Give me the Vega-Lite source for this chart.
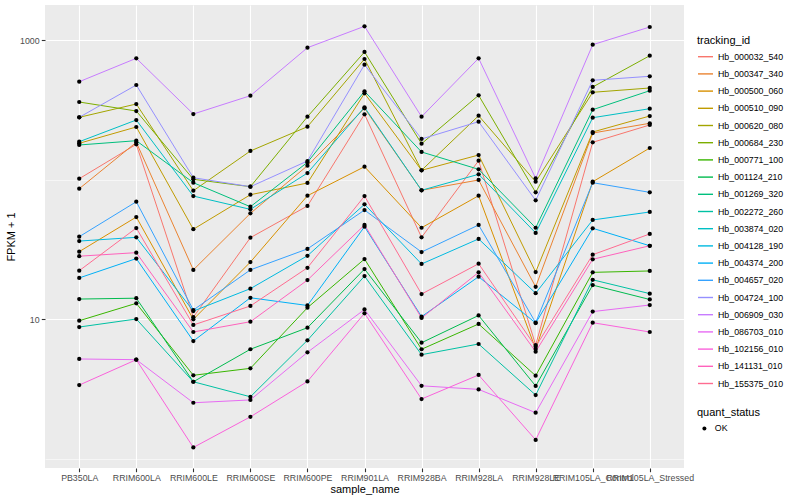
{
  "$schema": "https://vega.github.io/schema/vega-lite/v6.json",
  "width": 639,
  "height": 463,
  "autosize": {"type": "none"},
  "padding": {"left": 45, "top": 5, "right": 116, "bottom": 32},
  "background": "white",
  "config": {
    "font": "Liberation Sans",
    "view": {"fill": "#EBEBEB", "stroke": null},
    "axis": {
      "domain": false,
      "gridColor": "white",
      "tickColor": "#333333",
      "tickSize": 3.7,
      "tickWidth": 1.1,
      "labelColor": "#4D4D4D",
      "labelFontSize": 8.8,
      "labelPadding": 2.2,
      "titleColor": "black",
      "titleFontSize": 11,
      "titleFontWeight": "normal"
    },
    "legend": {
      "titleFontWeight": "normal",
      "titleFontSize": 11,
      "titleColor": "black",
      "labelFontSize": 8.8,
      "labelColor": "black",
      "padding": 0
    }
  },
  "data": {
    "values": [
      {"tracking_id":"Hb_000032_540","sample_name":"PB350LA","fpkm_plus_1":101.3,"quant_status":"OK"},
      {"tracking_id":"Hb_000032_540","sample_name":"RRIM600LA","fpkm_plus_1":178.8,"quant_status":"OK"},
      {"tracking_id":"Hb_000032_540","sample_name":"RRIM600LE","fpkm_plus_1":10.3,"quant_status":"OK"},
      {"tracking_id":"Hb_000032_540","sample_name":"RRIM600SE","fpkm_plus_1":38.3,"quant_status":"OK"},
      {"tracking_id":"Hb_000032_540","sample_name":"RRIM600PE","fpkm_plus_1":64.6,"quant_status":"OK"},
      {"tracking_id":"Hb_000032_540","sample_name":"RRIM901LA","fpkm_plus_1":293.4,"quant_status":"OK"},
      {"tracking_id":"Hb_000032_540","sample_name":"RRIM928BA","fpkm_plus_1":38.5,"quant_status":"OK"},
      {"tracking_id":"Hb_000032_540","sample_name":"RRIM928LA","fpkm_plus_1":136.4,"quant_status":"OK"},
      {"tracking_id":"Hb_000032_540","sample_name":"RRIM928LE","fpkm_plus_1":6.51,"quant_status":"OK"},
      {"tracking_id":"Hb_000032_540","sample_name":"RRIM105LA_Control","fpkm_plus_1":184.8,"quant_status":"OK"},
      {"tracking_id":"Hb_000032_540","sample_name":"RRIM105LA_Stressed","fpkm_plus_1":245.9,"quant_status":"OK"},
      {"tracking_id":"Hb_000347_340","sample_name":"PB350LA","fpkm_plus_1":85.9,"quant_status":"OK"},
      {"tracking_id":"Hb_000347_340","sample_name":"RRIM600LA","fpkm_plus_1":184.8,"quant_status":"OK"},
      {"tracking_id":"Hb_000347_340","sample_name":"RRIM600LE","fpkm_plus_1":22.5,"quant_status":"OK"},
      {"tracking_id":"Hb_000347_340","sample_name":"RRIM600SE","fpkm_plus_1":57.2,"quant_status":"OK"},
      {"tracking_id":"Hb_000347_340","sample_name":"RRIM600PE","fpkm_plus_1":125.6,"quant_status":"OK"},
      {"tracking_id":"Hb_000347_340","sample_name":"RRIM901LA","fpkm_plus_1":323.8,"quant_status":"OK"},
      {"tracking_id":"Hb_000347_340","sample_name":"RRIM928BA","fpkm_plus_1":83.7,"quant_status":"OK"},
      {"tracking_id":"Hb_000347_340","sample_name":"RRIM928LA","fpkm_plus_1":99.2,"quant_status":"OK"},
      {"tracking_id":"Hb_000347_340","sample_name":"RRIM928LE","fpkm_plus_1":17.0,"quant_status":"OK"},
      {"tracking_id":"Hb_000347_340","sample_name":"RRIM105LA_Control","fpkm_plus_1":215.4,"quant_status":"OK"},
      {"tracking_id":"Hb_000347_340","sample_name":"RRIM105LA_Stressed","fpkm_plus_1":252.9,"quant_status":"OK"},
      {"tracking_id":"Hb_000500_060","sample_name":"PB350LA","fpkm_plus_1":30.4,"quant_status":"OK"},
      {"tracking_id":"Hb_000500_060","sample_name":"RRIM600LA","fpkm_plus_1":53.8,"quant_status":"OK"},
      {"tracking_id":"Hb_000500_060","sample_name":"RRIM600LE","fpkm_plus_1":9.95,"quant_status":"OK"},
      {"tracking_id":"Hb_000500_060","sample_name":"RRIM600SE","fpkm_plus_1":25.6,"quant_status":"OK"},
      {"tracking_id":"Hb_000500_060","sample_name":"RRIM600PE","fpkm_plus_1":76.5,"quant_status":"OK"},
      {"tracking_id":"Hb_000500_060","sample_name":"RRIM901LA","fpkm_plus_1":123.5,"quant_status":"OK"},
      {"tracking_id":"Hb_000500_060","sample_name":"RRIM928BA","fpkm_plus_1":45.1,"quant_status":"OK"},
      {"tracking_id":"Hb_000500_060","sample_name":"RRIM928LA","fpkm_plus_1":76.5,"quant_status":"OK"},
      {"tracking_id":"Hb_000500_060","sample_name":"RRIM928LE","fpkm_plus_1":6.09,"quant_status":"OK"},
      {"tracking_id":"Hb_000500_060","sample_name":"RRIM105LA_Control","fpkm_plus_1":96.4,"quant_status":"OK"},
      {"tracking_id":"Hb_000500_060","sample_name":"RRIM105LA_Stressed","fpkm_plus_1":168.2,"quant_status":"OK"},
      {"tracking_id":"Hb_000510_090","sample_name":"PB350LA","fpkm_plus_1":181.8,"quant_status":"OK"},
      {"tracking_id":"Hb_000510_090","sample_name":"RRIM600LA","fpkm_plus_1":237.9,"quant_status":"OK"},
      {"tracking_id":"Hb_000510_090","sample_name":"RRIM600LE","fpkm_plus_1":44.0,"quant_status":"OK"},
      {"tracking_id":"Hb_000510_090","sample_name":"RRIM600SE","fpkm_plus_1":77.8,"quant_status":"OK"},
      {"tracking_id":"Hb_000510_090","sample_name":"RRIM600PE","fpkm_plus_1":94.4,"quant_status":"OK"},
      {"tracking_id":"Hb_000510_090","sample_name":"RRIM901LA","fpkm_plus_1":414.8,"quant_status":"OK"},
      {"tracking_id":"Hb_000510_090","sample_name":"RRIM928BA","fpkm_plus_1":116.4,"quant_status":"OK"},
      {"tracking_id":"Hb_000510_090","sample_name":"RRIM928LA","fpkm_plus_1":149.8,"quant_status":"OK"},
      {"tracking_id":"Hb_000510_090","sample_name":"RRIM928LE","fpkm_plus_1":21.7,"quant_status":"OK"},
      {"tracking_id":"Hb_000510_090","sample_name":"RRIM105LA_Control","fpkm_plus_1":219.0,"quant_status":"OK"},
      {"tracking_id":"Hb_000510_090","sample_name":"RRIM105LA_Stressed","fpkm_plus_1":285.2,"quant_status":"OK"},
      {"tracking_id":"Hb_000620_080","sample_name":"PB350LA","fpkm_plus_1":279.1,"quant_status":"OK"},
      {"tracking_id":"Hb_000620_080","sample_name":"RRIM600LA","fpkm_plus_1":347.7,"quant_status":"OK"},
      {"tracking_id":"Hb_000620_080","sample_name":"RRIM600LE","fpkm_plus_1":83.1,"quant_status":"OK"},
      {"tracking_id":"Hb_000620_080","sample_name":"RRIM600SE","fpkm_plus_1":160.1,"quant_status":"OK"},
      {"tracking_id":"Hb_000620_080","sample_name":"RRIM600PE","fpkm_plus_1":239.0,"quant_status":"OK"},
      {"tracking_id":"Hb_000620_080","sample_name":"RRIM901LA","fpkm_plus_1":730.8,"quant_status":"OK"},
      {"tracking_id":"Hb_000620_080","sample_name":"RRIM928BA","fpkm_plus_1":116.4,"quant_status":"OK"},
      {"tracking_id":"Hb_000620_080","sample_name":"RRIM928LA","fpkm_plus_1":286.6,"quant_status":"OK"},
      {"tracking_id":"Hb_000620_080","sample_name":"RRIM928LE","fpkm_plus_1":96.4,"quant_status":"OK"},
      {"tracking_id":"Hb_000620_080","sample_name":"RRIM105LA_Control","fpkm_plus_1":421.8,"quant_status":"OK"},
      {"tracking_id":"Hb_000620_080","sample_name":"RRIM105LA_Stressed","fpkm_plus_1":452.9,"quant_status":"OK"},
      {"tracking_id":"Hb_000684_230","sample_name":"PB350LA","fpkm_plus_1":359.4,"quant_status":"OK"},
      {"tracking_id":"Hb_000684_230","sample_name":"RRIM600LA","fpkm_plus_1":309.7,"quant_status":"OK"},
      {"tracking_id":"Hb_000684_230","sample_name":"RRIM600LE","fpkm_plus_1":100.3,"quant_status":"OK"},
      {"tracking_id":"Hb_000684_230","sample_name":"RRIM600SE","fpkm_plus_1":88.8,"quant_status":"OK"},
      {"tracking_id":"Hb_000684_230","sample_name":"RRIM600PE","fpkm_plus_1":281.9,"quant_status":"OK"},
      {"tracking_id":"Hb_000684_230","sample_name":"RRIM901LA","fpkm_plus_1":820.4,"quant_status":"OK"},
      {"tracking_id":"Hb_000684_230","sample_name":"RRIM928BA","fpkm_plus_1":180.5,"quant_status":"OK"},
      {"tracking_id":"Hb_000684_230","sample_name":"RRIM928LA","fpkm_plus_1":401.4,"quant_status":"OK"},
      {"tracking_id":"Hb_000684_230","sample_name":"RRIM928LE","fpkm_plus_1":80.9,"quant_status":"OK"},
      {"tracking_id":"Hb_000684_230","sample_name":"RRIM105LA_Control","fpkm_plus_1":460.4,"quant_status":"OK"},
      {"tracking_id":"Hb_000684_230","sample_name":"RRIM105LA_Stressed","fpkm_plus_1":771.9,"quant_status":"OK"},
      {"tracking_id":"Hb_000771_100","sample_name":"PB350LA","fpkm_plus_1":9.72,"quant_status":"OK"},
      {"tracking_id":"Hb_000771_100","sample_name":"RRIM600LA","fpkm_plus_1":12.96,"quant_status":"OK"},
      {"tracking_id":"Hb_000771_100","sample_name":"RRIM600LE","fpkm_plus_1":3.95,"quant_status":"OK"},
      {"tracking_id":"Hb_000771_100","sample_name":"RRIM600SE","fpkm_plus_1":4.43,"quant_status":"OK"},
      {"tracking_id":"Hb_000771_100","sample_name":"RRIM600PE","fpkm_plus_1":12.05,"quant_status":"OK"},
      {"tracking_id":"Hb_000771_100","sample_name":"RRIM901LA","fpkm_plus_1":26.9,"quant_status":"OK"},
      {"tracking_id":"Hb_000771_100","sample_name":"RRIM928BA","fpkm_plus_1":6.07,"quant_status":"OK"},
      {"tracking_id":"Hb_000771_100","sample_name":"RRIM928LA","fpkm_plus_1":9.21,"quant_status":"OK"},
      {"tracking_id":"Hb_000771_100","sample_name":"RRIM928LE","fpkm_plus_1":3.92,"quant_status":"OK"},
      {"tracking_id":"Hb_000771_100","sample_name":"RRIM105LA_Control","fpkm_plus_1":21.6,"quant_status":"OK"},
      {"tracking_id":"Hb_000771_100","sample_name":"RRIM105LA_Stressed","fpkm_plus_1":22.1,"quant_status":"OK"},
      {"tracking_id":"Hb_001124_210","sample_name":"PB350LA","fpkm_plus_1":13.9,"quant_status":"OK"},
      {"tracking_id":"Hb_001124_210","sample_name":"RRIM600LA","fpkm_plus_1":14.1,"quant_status":"OK"},
      {"tracking_id":"Hb_001124_210","sample_name":"RRIM600LE","fpkm_plus_1":3.55,"quant_status":"OK"},
      {"tracking_id":"Hb_001124_210","sample_name":"RRIM600SE","fpkm_plus_1":6.07,"quant_status":"OK"},
      {"tracking_id":"Hb_001124_210","sample_name":"RRIM600PE","fpkm_plus_1":8.66,"quant_status":"OK"},
      {"tracking_id":"Hb_001124_210","sample_name":"RRIM901LA","fpkm_plus_1":22.8,"quant_status":"OK"},
      {"tracking_id":"Hb_001124_210","sample_name":"RRIM928BA","fpkm_plus_1":6.76,"quant_status":"OK"},
      {"tracking_id":"Hb_001124_210","sample_name":"RRIM928LA","fpkm_plus_1":10.6,"quant_status":"OK"},
      {"tracking_id":"Hb_001124_210","sample_name":"RRIM928LE","fpkm_plus_1":3.31,"quant_status":"OK"},
      {"tracking_id":"Hb_001124_210","sample_name":"RRIM105LA_Control","fpkm_plus_1":17.5,"quant_status":"OK"},
      {"tracking_id":"Hb_001124_210","sample_name":"RRIM105LA_Stressed","fpkm_plus_1":13.8,"quant_status":"OK"},
      {"tracking_id":"Hb_001269_320","sample_name":"PB350LA","fpkm_plus_1":176.8,"quant_status":"OK"},
      {"tracking_id":"Hb_001269_320","sample_name":"RRIM600LA","fpkm_plus_1":189.7,"quant_status":"OK"},
      {"tracking_id":"Hb_001269_320","sample_name":"RRIM600LE","fpkm_plus_1":94.9,"quant_status":"OK"},
      {"tracking_id":"Hb_001269_320","sample_name":"RRIM600SE","fpkm_plus_1":63.8,"quant_status":"OK"},
      {"tracking_id":"Hb_001269_320","sample_name":"RRIM600PE","fpkm_plus_1":132.8,"quant_status":"OK"},
      {"tracking_id":"Hb_001269_320","sample_name":"RRIM901LA","fpkm_plus_1":428.8,"quant_status":"OK"},
      {"tracking_id":"Hb_001269_320","sample_name":"RRIM928BA","fpkm_plus_1":157.5,"quant_status":"OK"},
      {"tracking_id":"Hb_001269_320","sample_name":"RRIM928LA","fpkm_plus_1":118.3,"quant_status":"OK"},
      {"tracking_id":"Hb_001269_320","sample_name":"RRIM928LE","fpkm_plus_1":45.1,"quant_status":"OK"},
      {"tracking_id":"Hb_001269_320","sample_name":"RRIM105LA_Control","fpkm_plus_1":316.5,"quant_status":"OK"},
      {"tracking_id":"Hb_001269_320","sample_name":"RRIM105LA_Stressed","fpkm_plus_1":433.1,"quant_status":"OK"},
      {"tracking_id":"Hb_002272_260","sample_name":"PB350LA","fpkm_plus_1":8.76,"quant_status":"OK"},
      {"tracking_id":"Hb_002272_260","sample_name":"RRIM600LA","fpkm_plus_1":10.0,"quant_status":"OK"},
      {"tracking_id":"Hb_002272_260","sample_name":"RRIM600LE","fpkm_plus_1":3.55,"quant_status":"OK"},
      {"tracking_id":"Hb_002272_260","sample_name":"RRIM600SE","fpkm_plus_1":2.77,"quant_status":"OK"},
      {"tracking_id":"Hb_002272_260","sample_name":"RRIM600PE","fpkm_plus_1":7.04,"quant_status":"OK"},
      {"tracking_id":"Hb_002272_260","sample_name":"RRIM901LA","fpkm_plus_1":20.3,"quant_status":"OK"},
      {"tracking_id":"Hb_002272_260","sample_name":"RRIM928BA","fpkm_plus_1":5.55,"quant_status":"OK"},
      {"tracking_id":"Hb_002272_260","sample_name":"RRIM928LA","fpkm_plus_1":6.62,"quant_status":"OK"},
      {"tracking_id":"Hb_002272_260","sample_name":"RRIM928LE","fpkm_plus_1":2.85,"quant_status":"OK"},
      {"tracking_id":"Hb_002272_260","sample_name":"RRIM105LA_Control","fpkm_plus_1":19.1,"quant_status":"OK"},
      {"tracking_id":"Hb_002272_260","sample_name":"RRIM105LA_Stressed","fpkm_plus_1":15.2,"quant_status":"OK"},
      {"tracking_id":"Hb_003874_020","sample_name":"PB350LA","fpkm_plus_1":186.6,"quant_status":"OK"},
      {"tracking_id":"Hb_003874_020","sample_name":"RRIM600LA","fpkm_plus_1":267.0,"quant_status":"OK"},
      {"tracking_id":"Hb_003874_020","sample_name":"RRIM600LE","fpkm_plus_1":76.1,"quant_status":"OK"},
      {"tracking_id":"Hb_003874_020","sample_name":"RRIM600SE","fpkm_plus_1":61.1,"quant_status":"OK"},
      {"tracking_id":"Hb_003874_020","sample_name":"RRIM600PE","fpkm_plus_1":111.3,"quant_status":"OK"},
      {"tracking_id":"Hb_003874_020","sample_name":"RRIM901LA","fpkm_plus_1":329.3,"quant_status":"OK"},
      {"tracking_id":"Hb_003874_020","sample_name":"RRIM928BA","fpkm_plus_1":83.7,"quant_status":"OK"},
      {"tracking_id":"Hb_003874_020","sample_name":"RRIM928LA","fpkm_plus_1":109.0,"quant_status":"OK"},
      {"tracking_id":"Hb_003874_020","sample_name":"RRIM928LE","fpkm_plus_1":41.4,"quant_status":"OK"},
      {"tracking_id":"Hb_003874_020","sample_name":"RRIM105LA_Control","fpkm_plus_1":277.3,"quant_status":"OK"},
      {"tracking_id":"Hb_003874_020","sample_name":"RRIM105LA_Stressed","fpkm_plus_1":321.8,"quant_status":"OK"},
      {"tracking_id":"Hb_004128_190","sample_name":"PB350LA","fpkm_plus_1":36.2,"quant_status":"OK"},
      {"tracking_id":"Hb_004128_190","sample_name":"RRIM600LA","fpkm_plus_1":38.5,"quant_status":"OK"},
      {"tracking_id":"Hb_004128_190","sample_name":"RRIM600LE","fpkm_plus_1":11.4,"quant_status":"OK"},
      {"tracking_id":"Hb_004128_190","sample_name":"RRIM600SE","fpkm_plus_1":16.5,"quant_status":"OK"},
      {"tracking_id":"Hb_004128_190","sample_name":"RRIM600PE","fpkm_plus_1":28.4,"quant_status":"OK"},
      {"tracking_id":"Hb_004128_190","sample_name":"RRIM901LA","fpkm_plus_1":66.4,"quant_status":"OK"},
      {"tracking_id":"Hb_004128_190","sample_name":"RRIM928BA","fpkm_plus_1":24.8,"quant_status":"OK"},
      {"tracking_id":"Hb_004128_190","sample_name":"RRIM928LA","fpkm_plus_1":37.5,"quant_status":"OK"},
      {"tracking_id":"Hb_004128_190","sample_name":"RRIM928LE","fpkm_plus_1":15.3,"quant_status":"OK"},
      {"tracking_id":"Hb_004128_190","sample_name":"RRIM105LA_Control","fpkm_plus_1":51.3,"quant_status":"OK"},
      {"tracking_id":"Hb_004128_190","sample_name":"RRIM105LA_Stressed","fpkm_plus_1":58.5,"quant_status":"OK"},
      {"tracking_id":"Hb_004374_200","sample_name":"PB350LA","fpkm_plus_1":19.7,"quant_status":"OK"},
      {"tracking_id":"Hb_004374_200","sample_name":"RRIM600LA","fpkm_plus_1":27.1,"quant_status":"OK"},
      {"tracking_id":"Hb_004374_200","sample_name":"RRIM600LE","fpkm_plus_1":6.95,"quant_status":"OK"},
      {"tracking_id":"Hb_004374_200","sample_name":"RRIM600SE","fpkm_plus_1":14.2,"quant_status":"OK"},
      {"tracking_id":"Hb_004374_200","sample_name":"RRIM600PE","fpkm_plus_1":12.5,"quant_status":"OK"},
      {"tracking_id":"Hb_004374_200","sample_name":"RRIM901LA","fpkm_plus_1":45.9,"quant_status":"OK"},
      {"tracking_id":"Hb_004374_200","sample_name":"RRIM928BA","fpkm_plus_1":10.4,"quant_status":"OK"},
      {"tracking_id":"Hb_004374_200","sample_name":"RRIM928LA","fpkm_plus_1":20.1,"quant_status":"OK"},
      {"tracking_id":"Hb_004374_200","sample_name":"RRIM928LE","fpkm_plus_1":9.36,"quant_status":"OK"},
      {"tracking_id":"Hb_004374_200","sample_name":"RRIM105LA_Control","fpkm_plus_1":44.7,"quant_status":"OK"},
      {"tracking_id":"Hb_004374_200","sample_name":"RRIM105LA_Stressed","fpkm_plus_1":33.5,"quant_status":"OK"},
      {"tracking_id":"Hb_004657_020","sample_name":"PB350LA","fpkm_plus_1":38.9,"quant_status":"OK"},
      {"tracking_id":"Hb_004657_020","sample_name":"RRIM600LA","fpkm_plus_1":69.3,"quant_status":"OK"},
      {"tracking_id":"Hb_004657_020","sample_name":"RRIM600LE","fpkm_plus_1":11.6,"quant_status":"OK"},
      {"tracking_id":"Hb_004657_020","sample_name":"RRIM600SE","fpkm_plus_1":22.5,"quant_status":"OK"},
      {"tracking_id":"Hb_004657_020","sample_name":"RRIM600PE","fpkm_plus_1":31.8,"quant_status":"OK"},
      {"tracking_id":"Hb_004657_020","sample_name":"RRIM901LA","fpkm_plus_1":60.4,"quant_status":"OK"},
      {"tracking_id":"Hb_004657_020","sample_name":"RRIM928BA","fpkm_plus_1":30.2,"quant_status":"OK"},
      {"tracking_id":"Hb_004657_020","sample_name":"RRIM928LA","fpkm_plus_1":47.2,"quant_status":"OK"},
      {"tracking_id":"Hb_004657_020","sample_name":"RRIM928LE","fpkm_plus_1":9.41,"quant_status":"OK"},
      {"tracking_id":"Hb_004657_020","sample_name":"RRIM105LA_Control","fpkm_plus_1":94.9,"quant_status":"OK"},
      {"tracking_id":"Hb_004657_020","sample_name":"RRIM105LA_Stressed","fpkm_plus_1":80.9,"quant_status":"OK"},
      {"tracking_id":"Hb_004724_100","sample_name":"PB350LA","fpkm_plus_1":279.1,"quant_status":"OK"},
      {"tracking_id":"Hb_004724_100","sample_name":"RRIM600LA","fpkm_plus_1":475.8,"quant_status":"OK"},
      {"tracking_id":"Hb_004724_100","sample_name":"RRIM600LE","fpkm_plus_1":103.0,"quant_status":"OK"},
      {"tracking_id":"Hb_004724_100","sample_name":"RRIM600SE","fpkm_plus_1":88.8,"quant_status":"OK"},
      {"tracking_id":"Hb_004724_100","sample_name":"RRIM600PE","fpkm_plus_1":135.7,"quant_status":"OK"},
      {"tracking_id":"Hb_004724_100","sample_name":"RRIM901LA","fpkm_plus_1":665.3,"quant_status":"OK"},
      {"tracking_id":"Hb_004724_100","sample_name":"RRIM928BA","fpkm_plus_1":195.2,"quant_status":"OK"},
      {"tracking_id":"Hb_004724_100","sample_name":"RRIM928LA","fpkm_plus_1":259.7,"quant_status":"OK"},
      {"tracking_id":"Hb_004724_100","sample_name":"RRIM928LE","fpkm_plus_1":70.9,"quant_status":"OK"},
      {"tracking_id":"Hb_004724_100","sample_name":"RRIM105LA_Control","fpkm_plus_1":514.1,"quant_status":"OK"},
      {"tracking_id":"Hb_004724_100","sample_name":"RRIM105LA_Stressed","fpkm_plus_1":549.4,"quant_status":"OK"},
      {"tracking_id":"Hb_006909_030","sample_name":"PB350LA","fpkm_plus_1":502.4,"quant_status":"OK"},
      {"tracking_id":"Hb_006909_030","sample_name":"RRIM600LA","fpkm_plus_1":739.3,"quant_status":"OK"},
      {"tracking_id":"Hb_006909_030","sample_name":"RRIM600LE","fpkm_plus_1":294.8,"quant_status":"OK"},
      {"tracking_id":"Hb_006909_030","sample_name":"RRIM600SE","fpkm_plus_1":398.7,"quant_status":"OK"},
      {"tracking_id":"Hb_006909_030","sample_name":"RRIM600PE","fpkm_plus_1":880.6,"quant_status":"OK"},
      {"tracking_id":"Hb_006909_030","sample_name":"RRIM901LA","fpkm_plus_1":1253.6,"quant_status":"OK"},
      {"tracking_id":"Hb_006909_030","sample_name":"RRIM928BA","fpkm_plus_1":281.9,"quant_status":"OK"},
      {"tracking_id":"Hb_006909_030","sample_name":"RRIM928LA","fpkm_plus_1":739.3,"quant_status":"OK"},
      {"tracking_id":"Hb_006909_030","sample_name":"RRIM928LE","fpkm_plus_1":102.0,"quant_status":"OK"},
      {"tracking_id":"Hb_006909_030","sample_name":"RRIM105LA_Control","fpkm_plus_1":925.4,"quant_status":"OK"},
      {"tracking_id":"Hb_006909_030","sample_name":"RRIM105LA_Stressed","fpkm_plus_1":1239.3,"quant_status":"OK"},
      {"tracking_id":"Hb_086703_010","sample_name":"PB350LA","fpkm_plus_1":5.17,"quant_status":"OK"},
      {"tracking_id":"Hb_086703_010","sample_name":"RRIM600LA","fpkm_plus_1":5.11,"quant_status":"OK"},
      {"tracking_id":"Hb_086703_010","sample_name":"RRIM600LE","fpkm_plus_1":2.51,"quant_status":"OK"},
      {"tracking_id":"Hb_086703_010","sample_name":"RRIM600SE","fpkm_plus_1":2.63,"quant_status":"OK"},
      {"tracking_id":"Hb_086703_010","sample_name":"RRIM600PE","fpkm_plus_1":5.77,"quant_status":"OK"},
      {"tracking_id":"Hb_086703_010","sample_name":"RRIM901LA","fpkm_plus_1":11.7,"quant_status":"OK"},
      {"tracking_id":"Hb_086703_010","sample_name":"RRIM928BA","fpkm_plus_1":3.32,"quant_status":"OK"},
      {"tracking_id":"Hb_086703_010","sample_name":"RRIM928LA","fpkm_plus_1":3.13,"quant_status":"OK"},
      {"tracking_id":"Hb_086703_010","sample_name":"RRIM928LE","fpkm_plus_1":2.13,"quant_status":"OK"},
      {"tracking_id":"Hb_086703_010","sample_name":"RRIM105LA_Control","fpkm_plus_1":11.3,"quant_status":"OK"},
      {"tracking_id":"Hb_086703_010","sample_name":"RRIM105LA_Stressed","fpkm_plus_1":12.6,"quant_status":"OK"},
      {"tracking_id":"Hb_102156_010","sample_name":"PB350LA","fpkm_plus_1":3.36,"quant_status":"OK"},
      {"tracking_id":"Hb_102156_010","sample_name":"RRIM600LA","fpkm_plus_1":5.11,"quant_status":"OK"},
      {"tracking_id":"Hb_102156_010","sample_name":"RRIM600LE","fpkm_plus_1":1.20,"quant_status":"OK"},
      {"tracking_id":"Hb_102156_010","sample_name":"RRIM600SE","fpkm_plus_1":1.99,"quant_status":"OK"},
      {"tracking_id":"Hb_102156_010","sample_name":"RRIM600PE","fpkm_plus_1":3.57,"quant_status":"OK"},
      {"tracking_id":"Hb_102156_010","sample_name":"RRIM901LA","fpkm_plus_1":10.99,"quant_status":"OK"},
      {"tracking_id":"Hb_102156_010","sample_name":"RRIM928BA","fpkm_plus_1":2.67,"quant_status":"OK"},
      {"tracking_id":"Hb_102156_010","sample_name":"RRIM928LA","fpkm_plus_1":3.97,"quant_status":"OK"},
      {"tracking_id":"Hb_102156_010","sample_name":"RRIM928LE","fpkm_plus_1":1.36,"quant_status":"OK"},
      {"tracking_id":"Hb_102156_010","sample_name":"RRIM105LA_Control","fpkm_plus_1":9.41,"quant_status":"OK"},
      {"tracking_id":"Hb_102156_010","sample_name":"RRIM105LA_Stressed","fpkm_plus_1":8.07,"quant_status":"OK"},
      {"tracking_id":"Hb_141131_010","sample_name":"PB350LA","fpkm_plus_1":28.2,"quant_status":"OK"},
      {"tracking_id":"Hb_141131_010","sample_name":"RRIM600LA","fpkm_plus_1":29.9,"quant_status":"OK"},
      {"tracking_id":"Hb_141131_010","sample_name":"RRIM600LE","fpkm_plus_1":8.07,"quant_status":"OK"},
      {"tracking_id":"Hb_141131_010","sample_name":"RRIM600SE","fpkm_plus_1":9.56,"quant_status":"OK"},
      {"tracking_id":"Hb_141131_010","sample_name":"RRIM600PE","fpkm_plus_1":19.0,"quant_status":"OK"},
      {"tracking_id":"Hb_141131_010","sample_name":"RRIM901LA","fpkm_plus_1":47.2,"quant_status":"OK"},
      {"tracking_id":"Hb_141131_010","sample_name":"RRIM928BA","fpkm_plus_1":10.17,"quant_status":"OK"},
      {"tracking_id":"Hb_141131_010","sample_name":"RRIM928LA","fpkm_plus_1":21.6,"quant_status":"OK"},
      {"tracking_id":"Hb_141131_010","sample_name":"RRIM928LE","fpkm_plus_1":5.83,"quant_status":"OK"},
      {"tracking_id":"Hb_141131_010","sample_name":"RRIM105LA_Control","fpkm_plus_1":26.8,"quant_status":"OK"},
      {"tracking_id":"Hb_141131_010","sample_name":"RRIM105LA_Stressed","fpkm_plus_1":33.5,"quant_status":"OK"},
      {"tracking_id":"Hb_155375_010","sample_name":"PB350LA","fpkm_plus_1":22.2,"quant_status":"OK"},
      {"tracking_id":"Hb_155375_010","sample_name":"RRIM600LA","fpkm_plus_1":44.9,"quant_status":"OK"},
      {"tracking_id":"Hb_155375_010","sample_name":"RRIM600LE","fpkm_plus_1":9.06,"quant_status":"OK"},
      {"tracking_id":"Hb_155375_010","sample_name":"RRIM600SE","fpkm_plus_1":12.4,"quant_status":"OK"},
      {"tracking_id":"Hb_155375_010","sample_name":"RRIM600PE","fpkm_plus_1":23.3,"quant_status":"OK"},
      {"tracking_id":"Hb_155375_010","sample_name":"RRIM901LA","fpkm_plus_1":76.1,"quant_status":"OK"},
      {"tracking_id":"Hb_155375_010","sample_name":"RRIM928BA","fpkm_plus_1":15.1,"quant_status":"OK"},
      {"tracking_id":"Hb_155375_010","sample_name":"RRIM928LA","fpkm_plus_1":24.9,"quant_status":"OK"},
      {"tracking_id":"Hb_155375_010","sample_name":"RRIM928LE","fpkm_plus_1":6.33,"quant_status":"OK"},
      {"tracking_id":"Hb_155375_010","sample_name":"RRIM105LA_Control","fpkm_plus_1":28.9,"quant_status":"OK"},
      {"tracking_id":"Hb_155375_010","sample_name":"RRIM105LA_Stressed","fpkm_plus_1":40.7,"quant_status":"OK"}
    ]
  },
  "encoding": {
    "x": {
      "field": "sample_name",
      "type": "nominal",
      "sort": ["PB350LA","RRIM600LA","RRIM600LE","RRIM600SE","RRIM600PE","RRIM901LA","RRIM928BA","RRIM928LA","RRIM928LE","RRIM105LA_Control","RRIM105LA_Stressed"],
      "scale": {"type": "point", "padding": 0.6},
      "axis": {"title": "sample_name", "labelAngle": 0, "grid": true, "gridWidth": 1.1, "titlePadding": 1}
    },
    "y": {
      "field": "fpkm_plus_1",
      "type": "quantitative",
      "scale": {"type": "log", "domain": [0.855, 1782], "nice": false, "zero": false},
      "axis": {
        "title": "FPKM + 1",
        "values": [1, 10, 100, 1000],
        "labelExpr": "datum.value == 10 || datum.value == 1000 ? format(datum.value, 'd') : ''",
        "gridWidth": {"condition": {"test": "datum.value == 10 || datum.value == 1000", "value": 1.1}, "value": 0.55},
        "tickOpacity": {"condition": {"test": "datum.value == 10 || datum.value == 1000", "value": 1}, "value": 0},
        "titlePadding": 3
      }
    }
  },
  "layer": [
    {
      "mark": {"type": "line", "strokeWidth": 1},
      "encoding": {
        "color": {
          "field": "tracking_id",
          "type": "nominal",
          "scale": {
            "domain": ["Hb_000032_540","Hb_000347_340","Hb_000500_060","Hb_000510_090","Hb_000620_080","Hb_000684_230","Hb_000771_100","Hb_001124_210","Hb_001269_320","Hb_002272_260","Hb_003874_020","Hb_004128_190","Hb_004374_200","Hb_004657_020","Hb_004724_100","Hb_006909_030","Hb_086703_010","Hb_102156_010","Hb_141131_010","Hb_155375_010"],
            "range": ["#F8766D","#EA8331","#D89000","#C09B00","#A3A500","#7CAE00","#39B600","#00BB4E","#00BF7D","#00C1A3","#00BFC4","#00BAE0","#00B0F6","#35A2FF","#9590FF","#C77CFF","#E76BF3","#FA62DB","#FF62BC","#FF6C91"]
          },
          "legend": {
            "title": "tracking_id",
            "orient": "none",
            "legendX": 652,
            "legendY": 30,
            "symbolType": "stroke",
            "symbolSize": 225,
            "symbolStrokeWidth": 1.4,
            "rowPadding": 3.2,
            "titlePadding": 2.2,
            "labelOffset": 4
          }
        }
      }
    },
    {
      "mark": {"type": "point", "filled": true, "opacity": 1, "size": 18},
      "encoding": {
        "color": {"value": "black"},
        "shape": {
          "field": "quant_status",
          "type": "nominal",
          "scale": {"range": ["circle"]},
          "legend": {
            "title": "quant_status",
            "orient": "none",
            "legendX": 652,
            "legendY": 402,
            "symbolFillColor": "black",
            "symbolStrokeColor": "black",
            "symbolSize": 16,
            "titlePadding": 6,
            "symbolOffset": 3,
            "labelOffset": 6
          }
        }
      }
    }
  ]
}
